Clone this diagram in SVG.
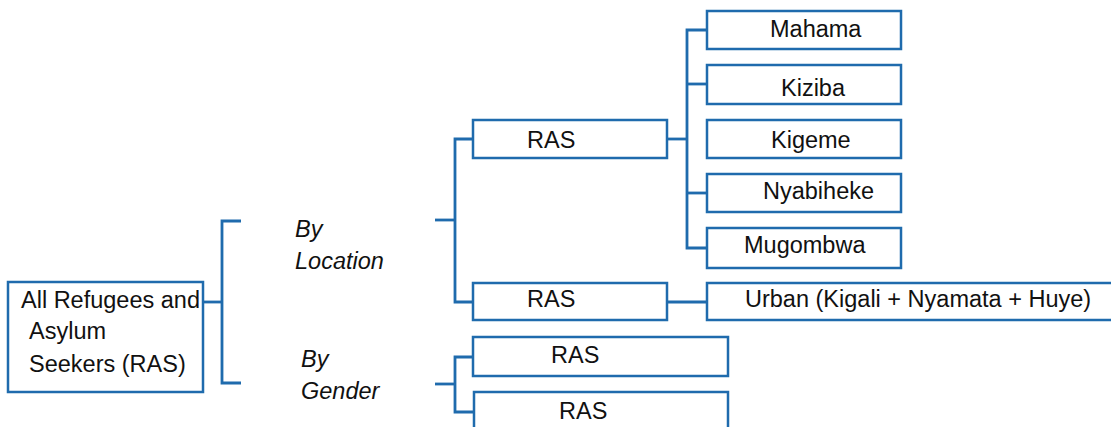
<svg xmlns="http://www.w3.org/2000/svg" width="1111" height="427" viewBox="0 0 1111 427">
  <style>
    .box { fill: #ffffff; stroke: #1f6bad; stroke-width: 2.5; }
    .wire { fill: none; stroke: #1f6bad; stroke-width: 2.8; stroke-linejoin: miter; }
    text { font-family: "Liberation Sans", Arial, sans-serif; font-size: 23.5px; fill: #111111; }
    .it { font-style: italic; }
  </style>
  <rect width="1111" height="427" fill="#ffffff"/>

  <!-- connectors -->
  <g id="connectors" class="wire">
    <!-- root bracket -->
    <path d="M203 302 H222"/>
    <path d="M241 221 H222 V383 H241"/>
    <!-- by location bracket -->
    <path d="M435 220 H455"/>
    <path d="M473 139 H455 V302 H473"/>
    <!-- by gender bracket -->
    <path d="M435 384 H455"/>
    <path d="M473 357 H455 V412 H473"/>
    <!-- camp trunk -->
    <path d="M667 139 H687"/>
    <path d="M707 30 H687 V248 H707"/>
    <path d="M687 84 H707"/>
    <path d="M687 193 H707"/>
    <!-- urban link -->
    <path d="M667 302 H707"/>
  </g>

  <g id="root">
    <rect class="box" x="8" y="282" width="195" height="110"/>
    <text x="21" y="308">All Refugees and</text>
    <text x="29" y="339">Asylum</text>
    <text x="29" y="372">Seekers (RAS)</text>
  </g>

  <g id="by-location">
    <text class="it" x="295" y="237">By</text>
    <text class="it" x="295" y="269">Location</text>
  </g>

  <g id="by-gender">
    <text class="it" x="301" y="367">By</text>
    <text class="it" x="301" y="399">Gender</text>
  </g>

  <g id="ras-camps">
    <rect class="box" x="473" y="120" width="194" height="38"/>
    <text x="527" y="148">RAS</text>
  </g>

  <g id="ras-urban">
    <rect class="box" x="473" y="283" width="194" height="37"/>
    <text x="527" y="307">RAS</text>
  </g>

  <g id="ras-gender-1">
    <rect class="box" x="473" y="337" width="255" height="39"/>
    <text x="551" y="363">RAS</text>
  </g>

  <g id="ras-gender-2">
    <rect class="box" x="474" y="392" width="254" height="40"/>
    <text x="559" y="419">RAS</text>
  </g>

  <g id="mahama">
    <rect class="box" x="707" y="11" width="194" height="38"/>
    <text x="770" y="37">Mahama</text>
  </g>

  <g id="kiziba">
    <rect class="box" x="707" y="65" width="194" height="39"/>
    <text x="781" y="96">Kiziba</text>
  </g>

  <g id="kigeme">
    <rect class="box" x="707" y="120" width="194" height="38"/>
    <text x="771" y="148">Kigeme</text>
  </g>

  <g id="nyabiheke">
    <rect class="box" x="707" y="174" width="194" height="38"/>
    <text x="763" y="199">Nyabiheke</text>
  </g>

  <g id="mugombwa">
    <rect class="box" x="707" y="228" width="194" height="40"/>
    <text x="744" y="253">Mugombwa</text>
  </g>

  <g id="urban">
    <rect class="box" x="707" y="283" width="420" height="37"/>
    <text x="745" y="307">Urban (Kigali + Nyamata + Huye)</text>
  </g>
</svg>
